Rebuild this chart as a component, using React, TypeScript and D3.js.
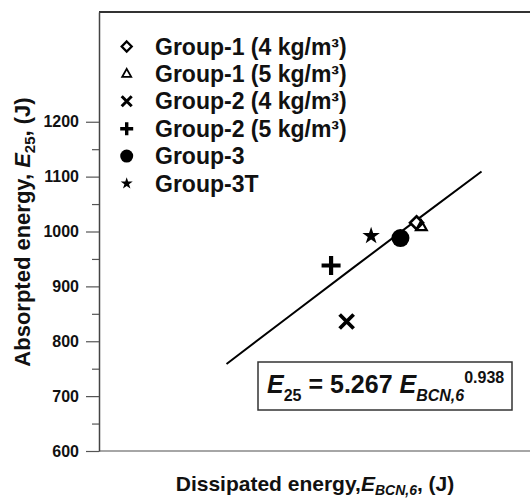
import { useRef, useEffect } from "react";
import * as d3 from "d3";

const groups = ["Group-1 (4 kg/m³)", "Group-1 (5 kg/m³)", "Group-2 (4 kg/m³)", "Group-2 (5 kg/m³)", "Group-3", "Group-3T"];
const kinds = ["diamond", "triangle", "times", "plus", "circle", "star"];
const dissipated = [274.5, 276.4, 247.1, 241, 268.2, 256.7];
const absorbed = [1016, 1009, 836, 938, 988, 992];

const fitA = 5.267;
const fitB = 0.938;
const fitRange = [200, 300];
const fitSteps = [0, 0.25, 0.5, 0.75, 1];

const majorTicks = [600, 700, 800, 900, 1000, 1100, 1200];
const minorTicks = [650, 750, 850, 950, 1050, 1150];

const W = 530, H = 500;
const left = 99, right = 530, top = 12, bottom = 451;
const font = "'Liberation Sans', Arial, sans-serif";

// custom symbols, size = half extent in px
const diamond = { draw(c: any, r: number) { c.moveTo(0, -r); c.lineTo(r, 0); c.lineTo(0, r); c.lineTo(-r, 0); c.closePath(); } };
const triangle = { draw(c: any, r: number) { c.moveTo(0, -r); c.lineTo(r * 0.9, r * 0.6); c.lineTo(-r * 0.9, r * 0.6); c.closePath(); } };
const times = { draw(c: any, r: number) { c.moveTo(-r, -r); c.lineTo(r, r); c.moveTo(-r, r); c.lineTo(r, -r); } };
const plus = { draw(c: any, r: number) { c.moveTo(-r, 0); c.lineTo(r, 0); c.moveTo(0, -r); c.lineTo(0, r); } };

function Marker({ kind, x, y, big }: { kind: string, x: number, y: number, big: boolean }) {
    const t = `translate(${x},${y})`;
    if (kind === "circle") return <circle cx={x} cy={y} r={big ? 9 : 6.5} fill="#000" />;
    if (kind === "star") return <path transform={t} d={d3.symbol(d3.symbolStar, big ? 95 : 45)() || ""} fill="#000" />;
    if (kind === "diamond") return <path transform={t} d={d3.symbol(diamond as any, big ? 6.5 : 5)() || ""} fill="#fff" stroke="#000" strokeWidth={big ? 2.6 : 2.3} />;
    if (kind === "triangle") return <path transform={t} d={d3.symbol(triangle as any, big ? 6 : 5)() || ""} fill="none" stroke="#000" strokeWidth={big ? 2.2 : 1.8} />;
    if (kind === "times") return <path transform={t} d={d3.symbol(times as any, big ? 7 : 5)() || ""} fill="none" stroke="#000" strokeWidth={big ? 3.8 : 3} />;
    return <path transform={t} d={d3.symbol(plus as any, big ? 9.5 : 6.5)() || ""} fill="none" stroke="#000" strokeWidth={big ? 4.2 : 3.4} />;
}

export default function App() {
    const yAxisRef = useRef<SVGGElement>(null);
    const yMinorRef = useRef<SVGGElement>(null);

    const x = d3.scaleLinear().domain([150, 319]).range([left, right]);
    const y = d3.scaleLinear().domain([600, 1400]).range([bottom, top]);

    useEffect(() => {
        if (!yAxisRef.current || !yMinorRef.current) return;
        const ax = d3.select(yAxisRef.current)
            .call(d3.axisLeft(y).tickValues(majorTicks).tickSize(13).tickSizeOuter(0).tickPadding(7).tickFormat(d3.format("d")));
        ax.select(".domain").attr("stroke", "#444").attr("stroke-width", 1.5);
        ax.selectAll(".tick line").attr("stroke", "#555").attr("stroke-width", 1.2);
        ax.selectAll(".tick text")
            .attr("font-family", font).attr("font-size", 16).attr("font-weight", "bold").attr("fill", "#111");
        const mn = d3.select(yMinorRef.current)
            .call(d3.axisLeft(y).tickValues(minorTicks).tickSize(7).tickSizeOuter(0).tickFormat(() => ""));
        mn.select(".domain").remove();
        mn.selectAll(".tick line").attr("stroke", "#555").attr("stroke-width", 1.2);
    }, []);

    const fitPts = fitSteps.map(s => fitRange[0] + s * (fitRange[1] - fitRange[0]));
    const fitLine = d3.line<number>().x(d => x(d)).y(d => y(fitA * Math.pow(d, fitB)))(fitPts) || "";

    return (
        <div>
            <style>{"body{margin:0}"}</style>
            <svg width={W} height={H} style={{ display: "block", background: "#fff" }}>
                <line x1={left} x2={right} y1={top} y2={top} stroke="#333" strokeWidth={2} />
                <line x1={left} x2={right} y1={bottom} y2={bottom} stroke="#888" strokeWidth={1.5} />
                <g ref={yMinorRef} transform={`translate(${left},0)`} />
                <g ref={yAxisRef} transform={`translate(${left},0)`} />

                <path d={fitLine} fill="none" stroke="#000" strokeWidth={2} />
                {kinds.map((k, i) => (
                    <Marker key={"p" + i} kind={k} x={x(dissipated[i])} y={y(absorbed[i])} big={true} />
                ))}

                {/* legend */}
                {groups.map((g, i) => (
                    <g key={"l" + i}>
                        <Marker kind={kinds[i]} x={126.7} y={46.5 + i * 27.4} big={false} />
                        <text x={155} y={54.5 + i * 27.4} fontFamily={font} fontSize={23} fontWeight="bold" fill="#111">{g}</text>
                    </g>
                ))}

                {/* equation */}
                <rect x={258} y={362} width={254} height={48} fill="#fff" stroke="#333" strokeWidth={1.5} />
                <text x={267} y={393} fontFamily={font} fontSize={25} fontWeight="bold" fill="#111">
                    <tspan fontStyle="italic">E</tspan>
                    <tspan fontSize={16} dy={8}>25</tspan>
                    <tspan dy={-8}> = 5.267 </tspan>
                    <tspan fontStyle="italic">E</tspan>
                    <tspan fontSize={16} fontStyle="italic" dy={8}>BCN,6</tspan>
                    <tspan fontSize={16} dy={-18}>0.938</tspan>
                </text>

                {/* axis titles */}
                <text transform="translate(30,232) rotate(-90)" textAnchor="middle" fontFamily={font} fontSize={22} fontWeight="bold" fill="#111">
                    Absorpted energy, <tspan fontStyle="italic">E</tspan><tspan fontSize={15} dy={5}>25</tspan><tspan dy={-5}>, (J)</tspan>
                </text>
                <text x={315} y={491} textAnchor="middle" fontFamily={font} fontSize={21} fontWeight="bold" fill="#111">
                    Dissipated energy,<tspan fontStyle="italic">E</tspan><tspan fontSize={14} fontStyle="italic" dy={4}>BCN,6</tspan><tspan dy={-4}>, (J)</tspan>
                </text>
            </svg>
        </div>
    );
}
